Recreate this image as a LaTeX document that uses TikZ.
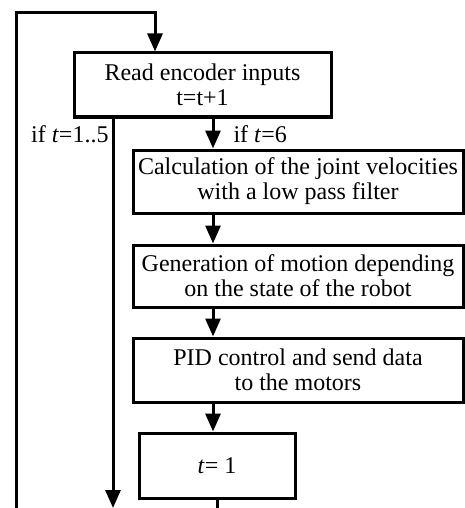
\documentclass[tikz,border=0pt]{standalone}
\usepackage{fontspec}
\setmainfont{Liberation Serif}
\usetikzlibrary{arrows.meta}
\begin{document}
\begin{tikzpicture}[x=1pt,y=-1pt,
  line width=3pt,
  box/.style={draw, rectangle, align=center, inner sep=0pt,
    font=\fontsize{24}{25}\selectfont},
  lab/.style={inner sep=0pt, font=\fontsize{24}{25}\selectfont},
  arr/.style={-{Triangle[width=15pt,length=18pt]}}]
\useasboundingbox (0,0) rectangle (465,508);
\node[box, minimum width=257pt, minimum height=64pt] (read) at (202.5,85) {Read encoder inputs\\t=t+1};
\node[box, minimum width=330pt, minimum height=63pt] (calc) at (298,181.5) {Calculation of the joint velocities\\with a low pass filter};
\node[box, minimum width=330pt, minimum height=62pt] (gen) at (298,276) {Generation of motion depending\\on the state of the robot};
\node[box, minimum width=330pt, minimum height=64pt] (pid) at (298,370) {PID control and send data\\to the motors};
\node[box, minimum width=156pt, minimum height=65pt] (tone) at (217,465.5) {\textit{t}=\ 1};
\coordinate (mx) at (213,0);
\coordinate (lx) at (113,0);
\coordinate (tx) at (155,0);
\coordinate (loopbot) at (16,508);
\coordinate (looptop) at (16,13);
\coordinate (leftend) at (113,508);
\coordinate (tend) at (217,508);
\draw[arr] (loopbot) -- (looptop) -| (read.north -| tx);
\draw[arr] (read.south -| lx) -- (leftend);
\draw[arr] (read.south -| mx) -- (calc.north -| mx);
\draw[arr] (calc.south -| mx) -- (gen.north -| mx);
\draw[arr] (gen.south -| mx) -- (pid.north -| mx);
\draw[arr] (pid.south -| mx) -- (tone.north -| mx);
\draw (tone.south) -- (tend);
\node[lab, anchor=base east] (l1) at (110,142) {if \textit{t}=1..5};
\node[lab, anchor=base west] (l2) at (232,142) {if \textit{t}=6};
\end{tikzpicture}
\end{document}
